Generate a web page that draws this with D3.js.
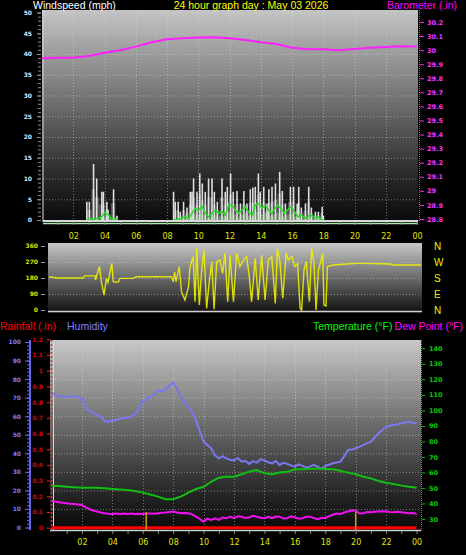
<!DOCTYPE html>
<html><head><meta charset="utf-8">
<script src="https://cdn.jsdelivr.net/npm/d3@7"></script>
<style>
body{margin:0;background:#000;}
svg{display:block;}
text{font-family:"Liberation Sans",Arial,sans-serif;}
.tk text{font-family:"DejaVu Sans",sans-serif;font-weight:bold;font-size:6px;}
.hr text{font-family:"DejaVu Sans",sans-serif;font-size:8px;}
</style>
</head><body>
<svg id="c" width="466" height="555"></svg>
<script>
// ---------- data ----------
const hourTicks = [2,4,6,8,10,12,14,16,18,20,22,24];
const hourLabels = ["02","04","06","08","10","12","14","16","18","20","22","00"];

const baroHours = [0,1,2,3,4,5,6,7,8,9,10,11,12,13,14,15,16,17,18,19,20,21,22,23,24];
const baroValues = [29.942,29.946,29.946,29.958,29.982,30.0,30.025,30.056,30.077,30.084,30.089,30.091,30.084,30.072,30.056,30.044,30.017,30.006,30.006,29.999,30.008,30.017,30.022,30.027,30.025];
const baroTicks = [28.8,28.9,29,29.1,29.2,29.3,29.4,29.5,29.6,29.7,29.8,29.9,30,30.1,30.2];
const windTicks = [0,5,10,15,20,25,30,35,40,45,50];

const gustHours1 = [2.87,3.03,3.3,3.5,3.83,3.93,4.15,4.23,4.58,4.8];
const gustMph1 = [4.4,4.4,13.5,10,6.8,6.8,4.4,2.5,7.4,1];
const gustHours2 = [8.42,8.53,8.72,8.85,9.06,9.28,9.49,9.6,9.7,9.92,10.1,10.26,10.45,10.66,10.88,11.03,11.22,11.52,11.73,11.86,
  12.07,12.24,12.48,12.7,12.92,13.12,13.33,13.49,13.65,13.85,13.97,14.19,14.4,14.52,14.72,14.94,15.21,15.38,15.58,15.9,
  16.1,16.33,16.43,16.6,16.86,17.07,17.24,17.5,17.69,17.93,18.01];
const gustMph2 = [6.8,4.4,4.4,2,4.4,3,6.8,6.8,10,6.8,11.2,8.8,6.8,10,10,6.8,4.4,10,6.8,8,
  11.2,6.8,7,4,7,4,7.4,7.8,8,11.2,6.8,8,4,7.4,8,8.8,11.6,7,4,8,
  8,4,8,3,4,8,3,2,2,3.2,1];

const avgHours1 = [2.87,3.08,3.29,3.61,3.83,4.04,4.25,4.47,4.68,4.83];
const avgMph1 = [0,0.4,0.2,0.4,0.8,1.8,1.2,0.2,0.4,0];
const avgHours2 = [8.42,8.85,9.17,9.38,9.6,9.8,10.0,10.25,10.45,10.66,10.88,11.09,11.3,11.52,11.73,11.95,12.16,12.37,12.6,12.8,
  13.0,13.2,13.45,13.65,13.85,14.08,14.3,14.5,14.7,14.9,15.1,15.3,15.5,15.7,15.95,16.15,16.4,16.6,16.8,17.0,17.2,17.45,17.65,17.85,18.0];
const avgMph2 = [0,0.3,0.8,0.3,1.6,2.8,2.4,3.2,1.6,0.8,1.6,2.4,1.6,2.0,1.2,3.6,3.6,2.4,1.6,2.4,
  3.2,2.0,1.2,3.6,4.0,2.8,3.6,2.4,1.6,2.8,3.6,2.8,1.6,2.4,3.2,2.0,0.8,1.2,0.4,0.8,1.2,0.4,0.8,0.2,0];

const dirHours = [0,0.6,2.2,2.3,2.97,3.0,3.25,3.4,3.55,3.7,3.8,4.05,4.15,4.47,4.58,5.4,5.65,7.9,8.02,8.1,
  8.2,8.4,8.55,8.77,9.0,9.1,9.3,9.42,9.53,9.7,9.85,10.0,10.17,10.35,10.5,10.65,10.82,11.03,11.2,11.35,
  11.53,11.68,11.9,12.11,12.32,12.54,12.75,12.9,13.07,13.3,13.5,13.72,13.94,14.15,14.37,14.6,14.73,14.9,15.08,15.3,
  15.44,15.66,15.87,16.04,16.2,16.3,16.45,16.6,16.8,16.94,17.1,17.23,17.38,17.53,17.66,17.74,17.87,17.96,18.35,19.0,
  19.85,20.3,22.0,22.2,24];
const dirDeg = [187,180,180,192,192,169,244,150,84,178,155,262,159,157,178,178,187,187,159,215,
  160,244,103,56,131,244,300,47,347,28,225,337,9,169,272,4,272,281,206,319,
  47,309,47,319,244,281,300,206,47,291,56,309,56,281,300,37,347,272,66,319,
  281,300,244,262,9,0,225,272,47,347,262,0,225,272,319,28,23,244,253,257,
  262,262,259,253,253];
const dirTicks = [0,90,180,270,360];
const compass = ["N","E","S","W","N"];

const tempHours = d3.range(0,24.01,0.5);
const tempF = [51.5,51.2,50.8,50.5,50.2,50.2,50.2,49.8,49.4,49.0,48.7,48.0,47.0,45.8,44.4,42.7,42.7,44.4,47.0,49.3,
  50.8,54.0,56.6,57.2,57.2,58.8,60.5,61.6,59.5,58.8,59.9,60.5,62.0,62.0,62.3,62.5,62.3,62.0,61.1,59.9,
  58.8,57.2,56.2,54.5,53.4,52.5,51.5,50.8,50.2];

const q = d3.range(0,24.01,0.25);
const humHours = q;
const humidity = [72.7,71.5,70.5,70.8,70.2,70.5,71,70,69.5,64.5,63,61.5,60.7,59.5,57.5,57,57.5,58,58.5,59,
  59.4,59.8,61.2,64,67.9,69.5,70.5,71.5,73.8,73.5,74.5,76.5,78.1,75,70.5,67,65.2,62,58,52,
  46.3,44.5,42.7,39,37.3,38.5,37.3,36.5,36.1,37.5,35.5,36,34.3,35.8,35,36.8,36.1,35.2,34.6,35.8,
  33.7,34.9,34.3,33.5,32.8,34,33.2,32.4,32.8,33.8,32.8,31.5,33.2,33.8,34.6,35,35.5,38.5,41.8,42,
  42.7,43.5,44.5,45.5,46.3,48.5,50.8,52.5,54.4,54.8,55.2,55.5,56.2,56.5,57.1,56.5,56.2];
const dewHours = q;
const dewF = [41.6,41.2,40.8,40.5,40.1,39.8,39.6,39.3,39.0,37.5,36.3,35.5,34.8,34.2,33.7,33.4,33.3,33.5,33.3,33.6,
  33.3,33.5,33.3,33.4,33.3,33.5,33.6,33.4,33.7,34,34.2,34.5,34.8,34.2,33.7,33.9,33.7,33.0,31.5,30.0,
  28.3,30.2,29.4,30.5,29.4,31.0,30.5,31.5,30.5,31.8,31.5,30.6,31.1,32.0,31.5,30.8,30.5,31.4,30.5,31.6,
  31.5,30.3,30.5,31.7,31.1,30.2,30.5,31.4,31.5,30.6,29.9,30.8,30.5,31.8,32.7,33.5,33.3,34.2,34.8,35.6,
  35.4,33.5,33.7,34.5,34.3,34.6,34.8,35.0,34.8,34.5,34.3,34.6,34.3,34.0,33.7,33.8,33.3];
const rainHours = [0,24];
const rainIn = [0,0];
const rainMarkHours = [6.23,20.0];
const rainMarkIn = [0.1,0.1];
const humTicks = [0,10,20,30,40,50,60,70,80,90,100];
const rainTicks = [0,0.1,0.2,0.3,0.4,0.5,0.6,0.7,0.8,0.9,1,1.1,1.2];
const tempTicks = [30,40,50,60,70,80,90,100,110,120,130,140];

// ---------- scales ----------
const xTop = d3.scaleLinear([0,24],[42,417]);
const yWind = d3.scaleLinear([0,50],[220,12.5]);
const yBaro = d3.scaleLinear([28.8,30.2],[219,22]);
const xMid = d3.scaleLinear([0,24],[49,421]);
const yDir = d3.scaleLinear([0,360],[310,246]);
const xBot = d3.scaleLinear([0,24],[51.5,416.5]);
const yHum = d3.scaleLinear([0,100],[527.5,342]);
const yRain = d3.scaleLinear([0,1.2],[527.7,339.3]);
const yTemp = d3.scaleLinear([30,140],[519,348.3]);

const svg = d3.select('#c');
const defs = svg.append('defs');
function grad(id, stops){
  const g = defs.append('linearGradient').attr('id',id).attr('x1',0).attr('y1',0).attr('x2',0).attr('y2',1);
  stops.forEach(([o,c])=>g.append('stop').attr('offset',o).attr('stop-color',c));
}
grad('gTop',[[0,'#c4c4c4'],[0.45,'#6c6c6c'],[0.8,'#262626'],[1,'#0a0a0a']]);
grad('gMid',[[0,'#c8c8c8'],[0.5,'#6a6a6a'],[1,'#0e0e0e']]);
grad('gBot',[[0,'#c8c8c8'],[0.45,'#6a6a6a'],[0.8,'#262626'],[1,'#080808']]);

function pts(xs, ys, xs_, ys_){ return xs.map((h,i)=>[xs_(h), ys_(ys[i])]); }
const grid = (g)=>g.attr('stroke','#e0e0e0').attr('stroke-opacity',0.45).attr('stroke-dasharray','1,2').attr('stroke-width',1);

// ---------- top panel ----------
svg.append('rect').attr('x',42).attr('y',10).attr('width',376).attr('height',212).attr('fill','url(#gTop)');
const tg = svg.append('g');
windTicks.slice(1).forEach(v=>tg.append('line').attr('x1',43).attr('x2',417).attr('y1',yWind(v)+0.5).attr('y2',yWind(v)+0.5).call(grid));
hourTicks.slice(0,11).forEach(h=>tg.append('line').attr('x1',Math.round(xTop(h))+0.5).attr('x2',Math.round(xTop(h))+0.5).attr('y1',11).attr('y2',219).call(grid));
svg.append('line').attr('x1',43).attr('x2',43).attr('y1',10).attr('y2',222).attr('stroke','#d8d8d8').attr('stroke-width',1);

// barometer
svg.append('path').attr('d',d3.line()(pts(baroHours,baroValues,xTop,yBaro)))
  .attr('fill','none').attr('stroke','#ff20ff').attr('stroke-width',2);

// gust areas & spikes
[[gustHours1,gustMph1],[gustHours2,gustMph2]].forEach(([hs,vs])=>{
  svg.append('path').attr('d',d3.area().curve(d3.curveStep).x(d=>d[0]).y0(yWind(0)).y1(d=>d[1])(pts(hs,vs.map(v=>v*0.55),xTop,yWind)))
    .attr('fill','#d0d0d0').attr('fill-opacity',0.35);
  svg.append('g').selectAll('line').data(hs).join('line')
    .attr('x1',h=>xTop(h)).attr('x2',h=>xTop(h)).attr('y1',yWind(0)).attr('y2',(h,i)=>yWind(vs[i]))
    .attr('stroke','#f2f2f2').attr('stroke-width',1.6).attr('stroke-opacity',0.9);
});

// avg wind
[[avgHours1,avgMph1],[avgHours2,avgMph2]].forEach(([hs,vs])=>{
  svg.append('path').attr('d',d3.area().x(d=>d[0]).y0(yWind(0)).y1(d=>d[1])(pts(hs,vs.map(v=>v*0.5),xTop,yWind)))
    .attr('fill','#b8f0b8').attr('fill-opacity',0.35);
  svg.append('path').attr('d',d3.line()(pts(hs,vs,xTop,yWind)))
    .attr('fill','none').attr('stroke','#20e020').attr('stroke-width',1.5);
});
svg.append('line').attr('x1',43).attr('x2',418).attr('y1',221).attr('y2',221).attr('stroke','#d8d8d8').attr('stroke-width',2);
svg.append('line').attr('x1',43).attr('x2',418).attr('y1',223.5).attr('y2',223.5).attr('stroke','#a8e8a8').attr('stroke-width',1.5);

// top axes
const gW = svg.append('g').attr('class','tk').attr('transform','translate(41,0)')
  .call(d3.axisLeft(yWind).tickValues(windTicks).tickSize(4).tickPadding(5).tickFormat(d3.format('d')));
gW.select('.domain').remove();
gW.selectAll('.tick line').attr('stroke','#9a9a9a');
gW.selectAll('.tick text').attr('fill','#d8e8ff');
const gWm = svg.append('g').attr('transform','translate(41,0)').call(d3.axisLeft(yWind).tickValues(d3.range(0,51,1)).tickSize(3).tickFormat(''));
gWm.select('.domain').remove(); gWm.selectAll('.tick line').attr('stroke','#8a8a8a');

svg.append('line').attr('x1',419.5).attr('x2',419.5).attr('y1',10).attr('y2',222).attr('stroke','#ff20ff').attr('stroke-dasharray','1,1');
const gB = svg.append('g').attr('class','tk').attr('transform','translate(420,0)')
  .call(d3.axisRight(yBaro).tickValues(baroTicks).tickSize(4).tickPadding(3).tickFormat(d=>String(+d.toFixed(1))));
gB.select('.domain').remove();
gB.selectAll('.tick line').attr('stroke','#ff20ff');
gB.selectAll('.tick text').attr('fill','#ff30ff').style('font-size','6.5px');

const gHT = svg.append('g').attr('class','hr').attr('transform','translate(0,222)')
  .call(d3.axisBottom(xTop).tickValues(d3.range(1,25)).tickSize(3).tickFormat(''));
gHT.select('.domain').remove(); gHT.selectAll('.tick line').attr('stroke','#888');
const gHT2 = svg.append('g').attr('class','hr').attr('transform','translate(0,222)')
  .call(d3.axisBottom(xTop).tickValues(hourTicks).tickSize(0).tickPadding(11).tickFormat((d,i)=>hourLabels[i]));
gHT2.select('.domain').remove(); gHT2.selectAll('.tick text').attr('fill','#e4e400');

// ---------- middle panel ----------
svg.append('rect').attr('x',48).attr('y',243).attr('width',374).attr('height',70).attr('fill','url(#gMid)');
[90,180,270].forEach(v=>svg.append('line').attr('x1',49).attr('x2',421).attr('y1',yDir(v)+0.5).attr('y2',yDir(v)+0.5).call(grid));
svg.append('line').attr('x1',48).attr('x2',422).attr('y1',311.5).attr('y2',311.5).attr('stroke','#d0d0d0').attr('stroke-width',1.5);
svg.append('path').attr('d',d3.line()(pts(dirHours,dirDeg,xMid,yDir)))
  .attr('fill','none').attr('stroke','#f0f000').attr('stroke-width',1.4).attr('stroke-opacity',0.9);
const gD = svg.append('g').attr('class','tk').attr('transform','translate(45,0)')
  .call(d3.axisLeft(yDir).tickValues(dirTicks).tickSize(4).tickPadding(3).tickFormat(d3.format('d')));
gD.select('.domain').remove();
gD.selectAll('.tick line').attr('stroke','#9a9a9a');
gD.selectAll('.tick text').attr('fill','#e0e000');
const gDc = svg.append('g').attr('transform','translate(434,0)')
  .call(d3.axisRight(yDir).tickValues(dirTicks).tickSize(0).tickPadding(0).tickFormat((d,i)=>compass[i]));
gDc.select('.domain').remove();
gDc.selectAll('.tick text').attr('fill','#f0f000').style('font-size','10px');

// ---------- bottom panel ----------
svg.append('rect').attr('x',50).attr('y',340).attr('width',371).attr('height',191).attr('fill','url(#gBot)');
humTicks.slice(1,10).forEach(v=>svg.append('line').attr('x1',52).attr('x2',420).attr('y1',yHum(v)+0.5).attr('y2',yHum(v)+0.5).call(grid));
hourTicks.slice(0,11).forEach(h=>svg.append('line').attr('x1',Math.round(xBot(h))+0.5).attr('x2',Math.round(xBot(h))+0.5).attr('y1',341).attr('y2',529).call(grid));
svg.append('line').attr('x1',53.5).attr('x2',53.5).attr('y1',340).attr('y2',531).attr('stroke','#d8d8d8');
svg.append('line').attr('x1',50).attr('x2',421).attr('y1',530.5).attr('y2',530.5).attr('stroke','#d0d0d0').attr('stroke-width',1.5);

svg.append('path').attr('d',d3.line()(pts(humHours,humidity,xBot,yHum)))
  .attr('fill','none').attr('stroke','#7878f0').attr('stroke-width',2);
svg.append('path').attr('d',d3.line()(pts(tempHours,tempF,xBot,yTemp)))
  .attr('fill','none').attr('stroke','#10c010').attr('stroke-width',2);
svg.append('path').attr('d',d3.line()(pts(dewHours,dewF,xBot,yTemp)))
  .attr('fill','none').attr('stroke','#f010f0').attr('stroke-width',2);
svg.append('path').attr('d',d3.line()(pts(rainHours,rainIn,xBot,yRain)))
  .attr('fill','none').attr('stroke','#ff0000').attr('stroke-width',3);
svg.append('g').selectAll('line').data(rainMarkHours).join('line')
  .attr('x1',h=>xBot(h)).attr('x2',h=>xBot(h)).attr('y1',yRain(0)+3).attr('y2',(h,i)=>yRain(rainMarkIn[i]))
  .attr('stroke','#c89a10').attr('stroke-width',1.5);

// humidity axis
svg.append('line').attr('x1',30).attr('x2',30).attr('y1',340).attr('y2',530).attr('stroke','#6464f0').attr('stroke-width',2);
const gH = svg.append('g').attr('class','tk').attr('transform','translate(29,0)')
  .call(d3.axisLeft(yHum).tickValues(humTicks).tickSize(4).tickPadding(4).tickFormat(d3.format('d')));
gH.select('.domain').remove();
gH.selectAll('.tick line').attr('stroke','#6868f0');
gH.selectAll('.tick text').attr('fill','#7c7cff');
const gHm = svg.append('g').attr('transform','translate(29,0)').call(d3.axisLeft(yHum).tickValues(d3.range(0,101,2)).tickSize(2).tickFormat(''));
gHm.select('.domain').remove(); gHm.selectAll('.tick line').attr('stroke','#6868f0');

// rain axis
svg.append('line').attr('x1',51.5).attr('x2',51.5).attr('y1',340).attr('y2',530).attr('stroke','#ff2020').attr('stroke-width',1.5).attr('stroke-dasharray','2,2');
const gR = svg.append('g').attr('class','tk').attr('transform','translate(50,0)')
  .call(d3.axisLeft(yRain).tickValues(rainTicks).tickSize(3).tickPadding(4).tickFormat(d=>String(+d.toFixed(1))));
gR.select('.domain').remove();
gR.selectAll('.tick line').attr('stroke','#ff2020');
gR.selectAll('.tick text').attr('fill','#e00000');

// temperature axis
svg.append('line').attr('x1',421.5).attr('x2',421.5).attr('y1',340).attr('y2',531).attr('stroke','#10c010').attr('stroke-dasharray','1,1');
const gT = svg.append('g').attr('class','tk').attr('transform','translate(422,0)')
  .call(d3.axisRight(yTemp).tickValues(tempTicks).tickSize(3).tickPadding(4).tickFormat(d3.format('d')));
gT.select('.domain').remove();
gT.selectAll('.tick line').attr('stroke','#10c010');
gT.selectAll('.tick text').attr('fill','#00cc00').style('font-size','6.5px');

const gHB = svg.append('g').attr('transform','translate(0,531)')
  .call(d3.axisBottom(xBot).tickValues(d3.range(1,25)).tickSize(3).tickFormat(''));
gHB.select('.domain').remove(); gHB.selectAll('.tick line').attr('stroke','#888');
const gHB2 = svg.append('g').attr('class','hr').attr('transform','translate(0,531)')
  .call(d3.axisBottom(xBot).tickValues(hourTicks).tickSize(0).tickPadding(8).tickFormat((d,i)=>hourLabels[i]));
gHB2.select('.domain').remove(); gHB2.selectAll('.tick text').attr('fill','#e4e400');

// ---------- titles ----------
const T = (x,y,s,c,anchor)=>svg.append('text').attr('x',x).attr('y',y).attr('fill',c).attr('font-size','10.5px').attr('text-anchor',anchor||'start').text(s);
T(33,9,'Windspeed (mph)','#ffffff');
T(251,9,'24 hour graph day : May 03 2026','#ffff00','middle');
T(457,9,'Barometer (.in)','#ff00ff','end');
T(0,330,'Rainfall (.in)','#ff0000');
T(67,330,'Humidity','#8080ff');
T(313,330,'Temperature (°F)','#00ff00');
T(463,330,'Dew Point (°F)','#ff00ff','end');
</script>
</body></html>
